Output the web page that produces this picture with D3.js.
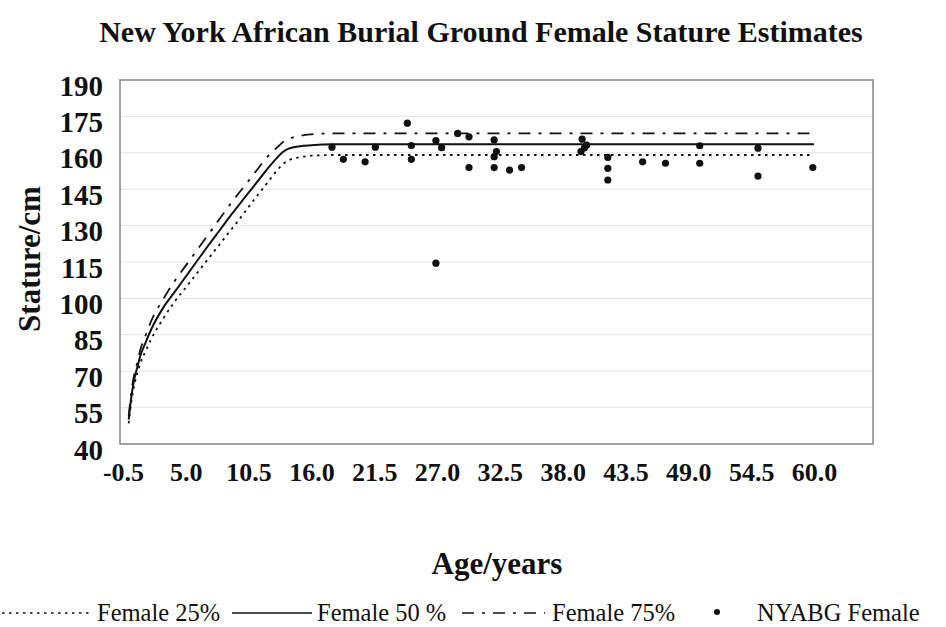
<!DOCTYPE html>
<html>
<head>
<meta charset="utf-8">
<script src="https://cdn.jsdelivr.net/npm/d3@7/dist/d3.min.js"></script>
<style>
  html, body { margin: 0; padding: 0; background: #fff; }
  svg { display: block; }
  text { font-family: "Liberation Serif", "Times New Roman", serif; fill: #111; }
</style>
</head>
<body>
<svg id="chart" width="946" height="627"></svg>
<script>
// Reference growth curves (age in years, stature in cm)
const curveAges = [0, 0.25, 0.5, 0.75, 1, 1.5, 2, 3, 4, 5, 6, 7, 8, 9, 10, 11, 12, 13, 13.5, 14, 15, 16, 17, 18, 60];
const female25 = [48.5, 58, 64.5, 69, 73, 78.5, 83.5, 91.5, 98.5, 104.5, 110.5, 116.5, 122.5, 128.5, 134.5, 140.8, 146.8, 152.8, 155.3, 156.9, 158.2, 158.8, 159, 159.1, 159.1];
const female50 = [50, 60, 67, 71.5, 76, 82, 87.5, 96, 102.5, 109, 115.5, 122, 128.3, 134.6, 140.6, 146.5, 152.5, 158, 160.3, 161.7, 162.7, 163.1, 163.4, 163.5, 163.5];
const female75 = [51.5, 62, 69, 73.5, 78.5, 85, 91, 99.5, 107, 113.5, 120, 126.5, 133, 139.5, 145.5, 151.5, 157.5, 162.2, 164.4, 165.7, 167, 167.6, 167.9, 168, 168];

// NYABG female individuals: estimated age and stature
const sampleAges = [17.8, 18.8, 20.7, 21.6, 24.4, 24.75, 24.75, 26.9, 27.4, 26.9, 28.8, 29.8, 29.8,
  32.0, 32.2, 32.0, 32.0, 33.35, 34.4, 39.7, 40.1, 39.6, 39.9, 41.95, 41.95, 41.95,
  45.0, 47.0, 50.0, 50.0, 55.1, 55.1, 59.9];
const sampleStatures = [162.3, 157.3, 156.3, 162.3, 172.2, 163.0, 157.3, 165.0, 162.1, 114.5, 168.0, 166.6, 153.9,
  165.3, 160.5, 158.4, 153.9, 152.9, 153.9, 165.6, 163.2, 160.5, 162.0, 158.1, 153.6, 148.8,
  156.3, 155.7, 162.9, 155.7, 161.9, 150.4, 153.9];

const xTicks = [-0.5, 5.0, 10.5, 16.0, 21.5, 27.0, 32.5, 38.0, 43.5, 49.0, 54.5, 60.0];
const yTicks = [40, 55, 70, 85, 100, 115, 130, 145, 160, 175, 190];

const seriesNames = ["Female 25%", "Female 50 %", "Female 75%", "NYABG Female"];

// Layout
const plot = { left: 120, right: 873, top: 80, bottom: 444 };
const xExtent = [-0.76, 65.17];
const yExtent = [40, 190];

const svg = d3.select("#chart");
const x = d3.scaleLinear().domain(xExtent).range([plot.left, plot.right]);
const y = d3.scaleLinear().domain(yExtent).range([plot.bottom, plot.top]);

// Title
svg.append("text")
  .attr("x", 481).attr("y", 42)
  .attr("text-anchor", "middle")
  .attr("font-size", 30).attr("font-weight", "bold")
  .text("New York African Burial Ground Female Stature Estimates");

// Light horizontal gridlines
svg.append("g").selectAll("line")
  .data(yTicks.filter(v => v > yExtent[0] && v < yExtent[1]))
  .join("line")
  .attr("x1", plot.left).attr("x2", plot.right)
  .attr("y1", d => y(d)).attr("y2", d => y(d))
  .attr("stroke", "#e4e4e4").attr("stroke-width", 1);

// Plot frame
svg.append("rect")
  .attr("x", plot.left).attr("y", plot.top)
  .attr("width", plot.right - plot.left).attr("height", plot.bottom - plot.top)
  .attr("fill", "none").attr("stroke", "#8c8c8c").attr("stroke-width", 1.6);

// Y axis labels
const yAxis = svg.append("g")
  .attr("transform", `translate(${plot.left},0)`)
  .call(d3.axisLeft(y).tickValues(yTicks).tickSize(0).tickPadding(17).tickFormat(d3.format("d")));
yAxis.select(".domain").remove();
yAxis.selectAll("text")
  .attr("font-size", 29).attr("font-weight", "bold")
  .attr("font-family", "Liberation Serif, serif")
  .attr("dy", "0.52em");

// X axis labels (plain hyphen for negative values)
const fmt1 = d3.format(".1f");
const xAxis = svg.append("g")
  .attr("transform", `translate(0,${plot.bottom})`)
  .call(d3.axisBottom(x).tickValues(xTicks).tickSize(0).tickPadding(19)
    .tickFormat(d => fmt1(d).replace("\u2212", "-")));
xAxis.select(".domain").remove();
xAxis.selectAll("text")
  .attr("font-size", 26).attr("font-weight", "bold")
  .attr("font-family", "Liberation Serif, serif");

// Axis titles
svg.append("text")
  .attr("transform", "translate(40,259) rotate(-90)")
  .attr("text-anchor", "middle")
  .attr("font-size", 31).attr("font-weight", "bold")
  .text("Stature/cm");
svg.append("text")
  .attr("x", 497).attr("y", 574)
  .attr("text-anchor", "middle")
  .attr("font-size", 31).attr("font-weight", "bold")
  .text("Age/years");

// Growth curves
const lineStyles = [
  { values: female25, dash: "2.5,4.5", width: 1.8 },
  { values: female50, dash: null, width: 2 },
  { values: female75, dash: "12,8,3,8", width: 1.8 }
];
const line = d3.line()
  .x(d => x(d[0]))
  .y(d => y(d[1]))
  .curve(d3.curveMonotoneX);

svg.append("g").selectAll("path")
  .data(lineStyles)
  .join("path")
  .attr("d", s => line(curveAges.map((a, i) => [a, s.values[i]])))
  .attr("fill", "none")
  .attr("stroke", "#111")
  .attr("stroke-width", s => s.width)
  .attr("stroke-dasharray", s => s.dash);

// Individuals
svg.append("g").selectAll("circle")
  .data(sampleAges.map((a, i) => [a, sampleStatures[i]]))
  .join("circle")
  .attr("cx", d => x(d[0]))
  .attr("cy", d => y(d[1]))
  .attr("r", 3.6)
  .attr("fill", "#111");

// Legend
const legendY = 613;
const legend = svg.append("g");
const legendItems = [
  { x1: 2, x2: 92, tx: 97, style: lineStyles[0] },
  { x1: 232, x2: 312, tx: 317, style: lineStyles[1] },
  { x1: 462, x2: 545, tx: 552, style: lineStyles[2] }
];
legendItems.forEach((it, i) => {
  legend.append("line")
    .attr("x1", it.x1).attr("x2", it.x2)
    .attr("y1", legendY).attr("y2", legendY)
    .attr("stroke", "#111")
    .attr("stroke-width", it.style.width - 0.4)
    .attr("stroke-dasharray", it.style.dash);
  legend.append("text")
    .attr("x", it.tx).attr("y", legendY + 8)
    .attr("font-size", 24.5)
    .text(seriesNames[i]);
});
legend.append("circle")
  .attr("cx", 717).attr("cy", legendY - 1).attr("r", 3)
  .attr("fill", "#111");
legend.append("text")
  .attr("x", 757).attr("y", legendY + 8)
  .attr("font-size", 24.5)
  .text(seriesNames[3]);
</script>
</body>
</html>
